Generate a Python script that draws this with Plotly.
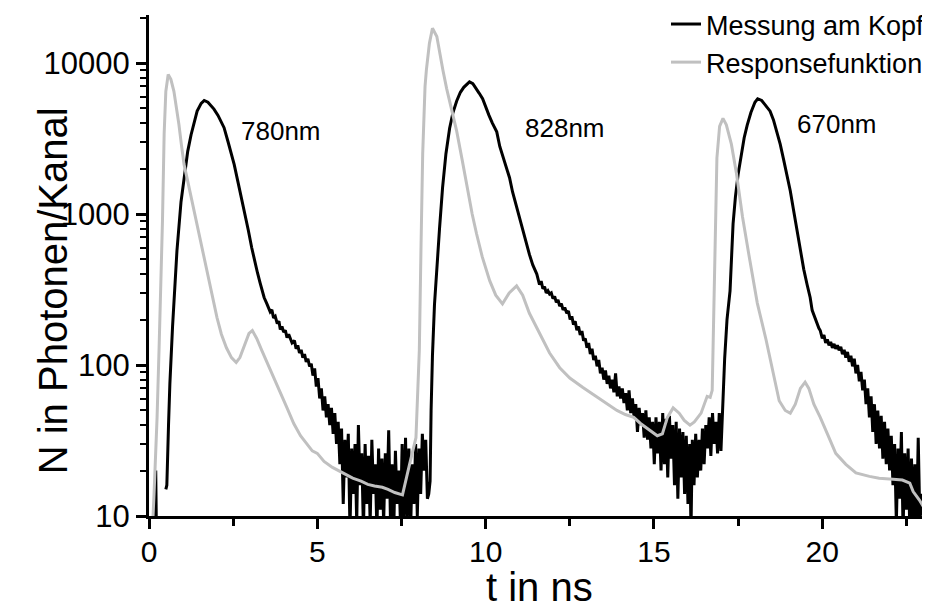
import math
import plotly.graph_objects as go

# Messung am Kopf (black): (t in ns, photons per channel)
kopf_spike = [(0.18, 8), (0.20, 20), (0.22, 8)]

kopf_780 = [
    (0.50, 15), (0.53, 16), (0.58, 40), (0.62, 75), (0.70, 180), (0.83, 570), (0.95, 1200),
    (1.04, 1730), (1.15, 2600), (1.25, 3350), (1.35, 4200), (1.43, 4800), (1.55, 5400),
    (1.64, 5650), (1.75, 5500), (1.85, 5200), (1.93, 4950), (2.05, 4500), (2.15, 4100),
    (2.23, 3730), (2.35, 3000), (2.45, 2500), (2.53, 2130), (2.65, 1600), (2.75, 1280),
    (2.83, 1050), (2.95, 780), (3.05, 600), (3.13, 490), (3.22, 410), (3.30, 350), (3.42, 280),
    (3.50, 255), (3.55, 240), (3.60, 225), (3.65, 232), (3.70, 205), (3.75, 210), (3.81, 188),
    (3.86, 195), (3.90, 172), (3.95, 180), (4.00, 165), (4.05, 170), (4.10, 152), (4.15, 160),
    (4.20, 148), (4.25, 140), (4.32, 145), (4.37, 128), (4.42, 135), (4.47, 120), (4.52, 126),
    (4.57, 112), (4.62, 118), (4.67, 105), (4.72, 110), (4.77, 98), (4.82, 102), (4.87, 85),
    (4.92, 95), (4.97, 72), (5.02, 82), (5.07, 60), (5.12, 70), (5.17, 50), (5.22, 62),
    (5.27, 45), (5.32, 55), (5.37, 40), (5.42, 52), (5.47, 35), (5.52, 48), (5.57, 30),
    (5.62, 42), (5.67, 22), (5.72, 38), (5.77, 12), (5.82, 32), (5.87, 18), (5.92, 35),
    (5.97, 8), (6.02, 28), (6.07, 14), (6.12, 30), (6.17, 9), (6.22, 40), (6.27, 16),
    (6.32, 26), (6.37, 8), (6.42, 30), (6.47, 12), (6.52, 25), (6.57, 9), (6.62, 32),
    (6.67, 14), (6.72, 22), (6.77, 8), (6.82, 28), (6.87, 11), (6.92, 24), (6.97, 9),
    (7.02, 26), (7.07, 13), (7.12, 37), (7.17, 10), (7.22, 22), (7.27, 8), (7.32, 27),
    (7.37, 12), (7.42, 20), (7.47, 9), (7.52, 30), (7.57, 8), (7.62, 33), (7.67, 10),
    (7.72, 28), (7.77, 8), (7.82, 22), (7.87, 12), (7.92, 30), (7.97, 10), (8.02, 28),
    (8.07, 14), (8.12, 35), (8.17, 20), (8.22, 32), (8.27, 13), (8.31, 14), (8.35, 17),
]

kopf_828 = [
    (8.38, 50), (8.42, 115), (8.48, 250), (8.57, 546), (8.63, 800), (8.72, 1490), (8.82, 2500),
    (8.93, 3700), (9.03, 4700), (9.14, 5600), (9.25, 6400), (9.35, 6900), (9.45, 7300),
    (9.52, 7500), (9.62, 7300), (9.72, 6800), (9.81, 6300), (9.91, 5800), (10.00, 5100),
    (10.10, 4500), (10.20, 4000), (10.33, 3500), (10.42, 2800), (10.52, 2350), (10.62, 2000),
    (10.71, 1740), (10.80, 1400), (10.90, 1150), (11.00, 960), (11.10, 810), (11.20, 650),
    (11.30, 540), (11.40, 460), (11.52, 400), (11.60, 340), (11.65, 360), (11.70, 320),
    (11.75, 330), (11.80, 300), (11.85, 310), (11.90, 295), (11.95, 300), (12.00, 275),
    (12.05, 285), (12.10, 260), (12.15, 270), (12.20, 245), (12.25, 255), (12.30, 232),
    (12.35, 240), (12.41, 220), (12.46, 228), (12.51, 200), (12.56, 210), (12.61, 185),
    (12.66, 195), (12.71, 170), (12.76, 180), (12.81, 158), (12.86, 168), (12.91, 145),
    (12.96, 150), (13.01, 130), (13.06, 140), (13.11, 118), (13.16, 128), (13.21, 108),
    (13.26, 115), (13.31, 98), (13.36, 108), (13.41, 88), (13.46, 96), (13.51, 80),
    (13.56, 92), (13.61, 75), (13.66, 85), (13.71, 70), (13.76, 80), (13.81, 66), (13.86, 88),
    (13.91, 62), (13.96, 72), (14.01, 60), (14.06, 70), (14.11, 56), (14.16, 65), (14.21, 50),
    (14.26, 68), (14.31, 48), (14.36, 60), (14.41, 45), (14.46, 55), (14.51, 36), (14.56, 52),
    (14.61, 40), (14.66, 48), (14.71, 33), (14.76, 50), (14.81, 32), (14.86, 45), (14.91, 28),
    (14.96, 42), (15.01, 22), (15.06, 45), (15.11, 26), (15.16, 42), (15.21, 20), (15.26, 48),
    (15.31, 22), (15.36, 44), (15.41, 18), (15.46, 46), (15.51, 24), (15.56, 40), (15.61, 16),
    (15.66, 42), (15.71, 13), (15.76, 38), (15.81, 18), (15.86, 36), (15.91, 14), (15.96, 34),
    (16.01, 12), (16.06, 30), (16.10, 8), (16.14, 32), (16.19, 16), (16.24, 35), (16.29, 18),
    (16.34, 32), (16.39, 20), (16.44, 38), (16.49, 22), (16.54, 40), (16.59, 28), (16.64, 45),
    (16.69, 25), (16.74, 48), (16.79, 30), (16.84, 42), (16.89, 26), (16.94, 48), (16.99, 27),
]

kopf_670 = [
    (17.04, 60), (17.10, 110), (17.17, 200), (17.26, 310), (17.35, 860), (17.42, 1300),
    (17.50, 1830), (17.60, 2600), (17.68, 3200), (17.77, 3880), (17.88, 4700), (18.00, 5500),
    (18.08, 5800), (18.20, 5650), (18.30, 5300), (18.45, 4800), (18.55, 4200), (18.65, 3500),
    (18.75, 2900), (18.85, 2300), (18.95, 1800), (19.05, 1420), (19.15, 1050), (19.25, 780),
    (19.35, 570), (19.45, 430), (19.55, 340), (19.64, 280), (19.70, 230), (19.75, 215),
    (19.80, 195), (19.85, 185), (19.90, 175), (19.94, 169), (20.00, 150), (20.05, 158),
    (20.10, 140), (20.15, 148), (20.20, 135), (20.25, 142), (20.30, 130), (20.35, 138),
    (20.40, 128), (20.45, 135), (20.50, 125), (20.55, 132), (20.60, 118), (20.65, 126),
    (20.70, 112), (20.75, 122), (20.80, 105), (20.85, 115), (20.90, 98), (20.95, 110),
    (21.00, 88), (21.05, 100), (21.10, 78), (21.15, 90), (21.20, 68), (21.25, 80), (21.30, 55),
    (21.35, 70), (21.40, 45), (21.45, 62), (21.50, 36), (21.55, 55), (21.60, 30), (21.65, 50),
    (21.70, 28), (21.75, 46), (21.80, 24), (21.85, 42), (21.90, 22), (21.95, 38), (22.00, 20),
    (22.05, 34), (22.10, 16), (22.15, 30), (22.20, 9), (22.25, 28), (22.30, 13), (22.35, 36),
    (22.40, 8), (22.45, 26), (22.50, 11), (22.55, 28), (22.60, 8), (22.65, 24), (22.70, 10),
    (22.75, 22), (22.80, 8), (22.85, 33), (22.90, 9), (22.95, 14), (23.00, 10), (23.05, 8),
]

# Responsefunktion (grey)
resp_780 = [
    (0.08, 8), (0.12, 10), (0.15, 14), (0.20, 25), (0.24, 45), (0.30, 130), (0.36, 340),
    (0.40, 900), (0.45, 3400), (0.50, 6500), (0.57, 8400), (0.65, 7800), (0.74, 6500),
    (0.82, 5000), (0.89, 3900), (0.96, 2900), (1.04, 2140), (1.15, 1650), (1.25, 1300),
    (1.34, 1045), (1.45, 805), (1.55, 630), (1.64, 515), (1.75, 395), (1.85, 310), (1.95, 243),
    (2.02, 206), (2.15, 160), (2.30, 130), (2.45, 112), (2.59, 104), (2.70, 112), (2.85, 140),
    (2.97, 162), (3.07, 169), (3.20, 150), (3.35, 125), (3.50, 105), (3.65, 88), (3.81, 75),
    (3.95, 62), (4.10, 52), (4.30, 41), (4.50, 34), (4.70, 30), (4.85, 27), (5.00, 26),
    (5.20, 23), (5.45, 21), (5.70, 19.5), (5.90, 18.5), (6.05, 17.8), (6.30, 17), (6.50, 16.2),
    (6.70, 15.8), (6.93, 15.5), (7.10, 15), (7.30, 14.3), (7.53, 13.8), (7.62, 17), (7.74, 22),
]

resp_828 = [
    (7.93, 33), (7.97, 58), (8.03, 125), (8.08, 600), (8.13, 2500), (8.20, 7000), (8.24, 9000),
    (8.33, 13500), (8.42, 17000), (8.55, 15000), (8.63, 11800), (8.73, 9000), (8.84, 6800),
    (9.00, 4800), (9.14, 3540), (9.30, 2300), (9.43, 1580), (9.60, 1000), (9.73, 740),
    (9.90, 520), (10.12, 362), (10.30, 290), (10.50, 254), (10.70, 300), (10.92, 334),
    (11.10, 290), (11.30, 220), (11.60, 162), (11.90, 120), (12.20, 96), (12.50, 82),
    (12.89, 71), (13.10, 66), (13.39, 60), (13.65, 55), (13.90, 50), (14.15, 47), (14.40, 45),
    (14.60, 41), (14.80, 38), (15.10, 34), (15.25, 35), (15.40, 45), (15.57, 52), (15.75, 48),
    (15.90, 43), (16.07, 40), (16.20, 42), (16.40, 48), (16.58, 62),
]

resp_670 = [
    (16.67, 61), (16.73, 68), (16.77, 200), (16.82, 600), (16.87, 2350), (16.95, 3800),
    (17.05, 4300), (17.15, 3900), (17.30, 2900), (17.45, 1860), (17.63, 960), (17.83, 521),
    (18.07, 257), (18.33, 147), (18.55, 85), (18.72, 58), (18.90, 50), (19.05, 48),
    (19.20, 55), (19.35, 70), (19.49, 77), (19.60, 70), (19.75, 55), (19.94, 45), (20.20, 33),
    (20.40, 26), (20.70, 22), (21.00, 19.3), (21.40, 18.3), (21.69, 17.8), (22.10, 17.5),
    (22.38, 17.3), (22.60, 16.5), (22.70, 14.5), (22.88, 12.8), (23.17, 10),
]

peak_labels = ["780nm", "828nm", "670nm"]
label_t = [3.93, 12.35, 20.45]
label_n = [3550, 3700, 3950]

kopf_t = [p[0] for p in kopf_spike] + [None] + [p[0] for p in kopf_780 + kopf_828 + kopf_670]
kopf_n = [p[1] for p in kopf_spike] + [None] + [p[1] for p in kopf_780 + kopf_828 + kopf_670]
resp_t = [p[0] for p in resp_780 + resp_828 + resp_670]
resp_n = [p[1] for p in resp_780 + resp_828 + resp_670]

font = "Liberation Sans"

fig = go.Figure()
fig.add_trace(go.Scatter(x=kopf_t, y=kopf_n, mode="lines", name="Messung am Kopf",
                         line=dict(color="black", width=3), connectgaps=False))
fig.add_trace(go.Scatter(x=resp_t, y=resp_n, mode="lines", name="Responsefunktion",
                         line=dict(color="#c0c0c0", width=3)))

for txt, t, n in zip(peak_labels, label_t, label_n):
    fig.add_annotation(x=t, y=math.log10(n), text=txt, showarrow=False,
                       font=dict(size=26, color="black", family=font))

fig.add_annotation(xref="paper", yref="paper", x=-0.154, y=0.45, text="N in Photonen/Kanal",
                   textangle=-90, showarrow=False, font=dict(size=40, color="black", family=font))
fig.add_annotation(xref="paper", yref="paper", x=0.5, y=-0.19, yanchor="bottom", text="t in ns",
                   showarrow=False, font=dict(size=40, color="black", family=font))

# the page body has an 8px margin, so the figure is 8px smaller and the margins shifted
fig.update_layout(
    width=922, height=597,
    margin=dict(l=141, r=0, t=7, b=89, autoexpand=False),
    plot_bgcolor="white", paper_bgcolor="white",
    font=dict(family=font, color="black"),
    showlegend=True,
    legend=dict(x=1.0, xanchor="right", y=1.030, yanchor="top",
                bgcolor="rgba(0,0,0,0)", font=dict(size=27, family=font)),
    xaxis=dict(range=[0, 23.2], showgrid=False, zeroline=False, showline=True, automargin=False,
               linecolor="black", linewidth=3, ticks="outside", ticklen=10, tickwidth=3,
               tickcolor="black", dtick=5, tick0=0, tickfont=dict(size=30),
               ticklabelstandoff=-3,
               minor=dict(ticks="outside", ticklen=7, tickwidth=3, dtick=2.5, tickcolor="black")),
    yaxis=dict(type="log", range=[1, 4.318], showgrid=False, zeroline=False, showline=True,
               automargin=False,
               linecolor="black", linewidth=3, ticks="outside", ticklen=10, tickwidth=3,
               tickcolor="black", dtick=1, tickformat="d", tickfont=dict(size=31),
               minor=dict(ticks="outside", ticklen=6, tickwidth=2, tickcolor="black")),
)

fig.write_html("out.html")
